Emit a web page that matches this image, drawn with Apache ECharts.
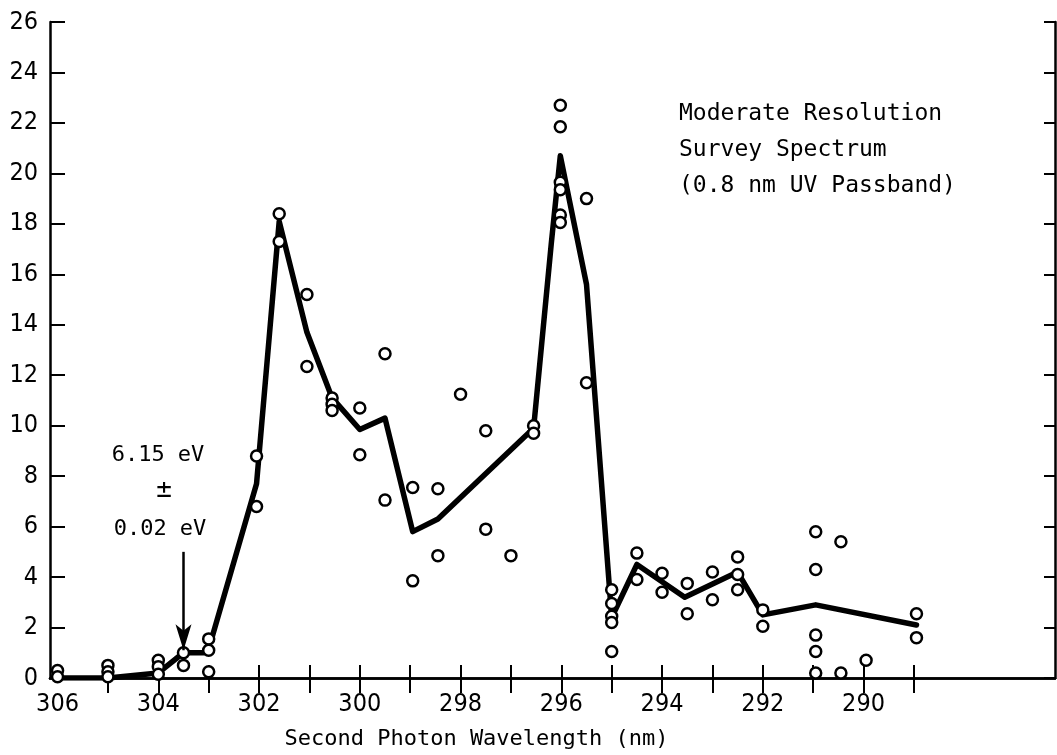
<!DOCTYPE html>
<html>
<head>
<meta charset="utf-8">
<title>Moderate Resolution Survey Spectrum</title>
<script src="https://cdn.jsdelivr.net/npm/echarts@6/dist/echarts.min.js"></script>
<style>
  html, body { margin: 0; padding: 0; background: #fff; }
  #chart { width: 1057px; height: 755px; }
</style>
</head>
<body>
<div id="chart"></div>
<script>
// smoothed curve drawn through the measurements
const lineWl = [306, 305, 304, 303.5, 303.1, 302.95, 302.05, 301.6, 301.05, 300.55, 300.0, 299.5,
  298.95, 298.45, 296.55, 296.2, 296.02, 295.5, 295.0, 294.5, 293.55, 292.5, 292.0, 290.95, 288.95];
const lineSignal = [0, 0, 0.2, 1.0, 1.0, 1.5, 7.7, 18.1, 13.7, 11.1, 9.85, 10.3,
  5.8, 6.3, 9.9, 17.2, 20.7, 15.6, 2.4, 4.5, 3.2, 4.2, 2.5, 2.9, 2.1];

// individual measurements (open circles)
const pointWl = [
  306, 306,
  305, 305, 305,
  304, 304, 304, 304,
  303.5, 303.5,
  303, 303, 303,
  302.05, 302.05,
  301.6, 301.6,
  301.05, 301.05,
  300.55, 300.55, 300.55,
  300.0, 300.0,
  299.5, 299.5,
  298.95, 298.95,
  298.45, 298.45,
  298.0,
  297.5, 297.5,
  297.0,
  296.55, 296.55,
  296.02, 296.02, 296.02, 296.02, 296.02, 296.02,
  295.5, 295.5,
  295.0, 295.0, 295.0, 295.0, 295.0,
  294.5, 294.5,
  294.0, 294.0,
  293.5, 293.5,
  293.0, 293.0,
  292.5, 292.5, 292.5,
  292.0, 292.0,
  290.95, 290.95, 290.95, 290.95, 290.95,
  290.45, 290.45,
  289.95,
  288.95, 288.95
];
const pointSignal = [
  0.3, 0.05,
  0.5, 0.25, 0.05,
  0.7, 0.45, 0.15, -0.15,
  1.0, 0.5,
  1.55, 1.1, 0.25,
  8.8, 6.8,
  18.4, 17.3,
  15.2, 12.35,
  11.1, 10.85, 10.6,
  10.7, 8.85,
  12.85, 7.05,
  7.55, 3.85,
  7.5, 4.85,
  11.25,
  9.8, 5.9,
  4.85,
  10.0, 9.7,
  22.7, 21.85, 19.65, 19.35, 18.35, 18.05,
  19.0, 11.7,
  3.5, 2.95, 2.45, 2.2, 1.05,
  4.95, 3.9,
  4.15, 3.4,
  3.75, 2.55,
  4.2, 3.1,
  4.8, 4.1, 3.5,
  2.7, 2.05,
  5.8, 4.3, 1.7, 1.05, 0.2,
  5.4, 0.2,
  0.7,
  2.55, 1.6
];

const xTickValues = [305, 304, 303, 302, 301, 300, 299, 298, 297, 296, 295, 294, 293, 292, 291, 290, 289];
const xLabelValues = [306, 304, 302, 300, 298, 296, 294, 292, 290];
const yTickLabels = [0, 2, 4, 6, 8, 10, 12, 14, 16, 18, 20, 22, 24, 26];

const arrowWl = 303.5;
const arrowFrom = 5.0;
const arrowTo = 1.1;

const labelFont = '"Liberation Sans Narrow", "DejaVu Sans Condensed", "Liberation Sans", sans-serif';
const monoFont = '"DejaVu Sans Mono", "Liberation Mono", monospace';

const chart = echarts.init(document.getElementById('chart'), null, { renderer: 'canvas' });

const axisLine = { show: true, lineStyle: { color: '#000', width: 2.5 } };

chart.setOption({
  animation: false,
  backgroundColor: '#fff',
  grid: { left: 50, right: 2, top: 22, bottom: 76 },
  xAxis: [
    {
      type: 'value',
      position: 'bottom',
      inverse: true,
      min: 286.2,
      max: 306.15,
      name: 'Second Photon Wavelength (nm)',
      nameLocation: 'middle',
      nameGap: 50,
      nameTextStyle: {
        fontFamily: monoFont,
        fontSize: 22,
        color: '#000',
        padding: [0, 152, 0, 0]
      },
      axisLine: axisLine,
      axisTick: { inside: true, length: 13, customValues: xTickValues, lineStyle: { color: '#000', width: 2 } },
      axisLabel: { customValues: xLabelValues, margin: 14, fontFamily: labelFont, fontSize: 25, color: '#000' },
      splitLine: { show: false }
    },
    {
      type: 'value',
      position: 'top',
      inverse: true,
      min: 286.2,
      max: 306.15,
      axisLine: axisLine,
      axisTick: { inside: true, length: 15, customValues: xTickValues, lineStyle: { color: '#000', width: 2 } },
      axisLabel: { show: false },
      splitLine: { show: false }
    }
  ],
  yAxis: [
    {
      type: 'value',
      position: 'left',
      min: 0,
      max: 26,
      interval: 2,
      axisLine: axisLine,
      axisTick: { inside: true, length: 15, lineStyle: { color: '#000', width: 2 } },
      axisLabel: {
        margin: 12,
        fontFamily: labelFont,
        fontSize: 25,
        color: '#000',
        formatter: (v) => (yTickLabels.includes(v) ? String(v) : '')
      },
      splitLine: { show: false }
    },
    {
      type: 'value',
      position: 'right',
      min: 0,
      max: 26,
      interval: 2,
      axisLine: axisLine,
      axisTick: { inside: true, length: 11, lineStyle: { color: '#000', width: 2 } },
      axisLabel: { show: false },
      splitLine: { show: false }
    }
  ],
  series: [
    {
      type: 'line',
      data: lineWl.map((w, i) => [w, lineSignal[i]]),
      showSymbol: false,
      lineStyle: { color: '#000', width: 5.5, join: 'round', cap: 'round' },
      z: 2,
      markLine: {
        silent: true,
        symbol: ['none', 'arrow'],
        symbolSize: [12, 26],
        label: { show: false },
        lineStyle: { color: '#000', width: 2.5, type: 'solid' },
        data: [[{ coord: [arrowWl, arrowFrom] }, { coord: [arrowWl, arrowTo] }]]
      }
    },
    {
      type: 'scatter',
      data: pointWl.map((w, i) => [w, pointSignal[i]]),
      symbol: 'circle',
      symbolSize: 11,
      itemStyle: { color: '#fff', borderColor: '#000', borderWidth: 2.5, opacity: 1 },
      z: 3
    }
  ],
  graphic: [
    {
      type: 'text',
      left: 679,
      top: 96,
      style: {
        text: 'Moderate Resolution\nSurvey Spectrum\n(0.8 nm UV Passband)',
        font: '23px ' + monoFont,
        lineHeight: 36,
        fill: '#000'
      }
    },
    {
      type: 'text',
      x: 158,
      y: 455,
      style: { text: '6.15 eV', font: '22px ' + monoFont, fill: '#000', textAlign: 'center', textVerticalAlign: 'middle' }
    },
    {
      type: 'text',
      x: 164,
      y: 490,
      style: { text: '±', font: '26px ' + monoFont, fill: '#000', textAlign: 'center', textVerticalAlign: 'middle' }
    },
    {
      type: 'text',
      x: 160,
      y: 529,
      style: { text: '0.02 eV', font: '22px ' + monoFont, fill: '#000', textAlign: 'center', textVerticalAlign: 'middle' }
    }
  ]
});
</script>
</body>
</html>
